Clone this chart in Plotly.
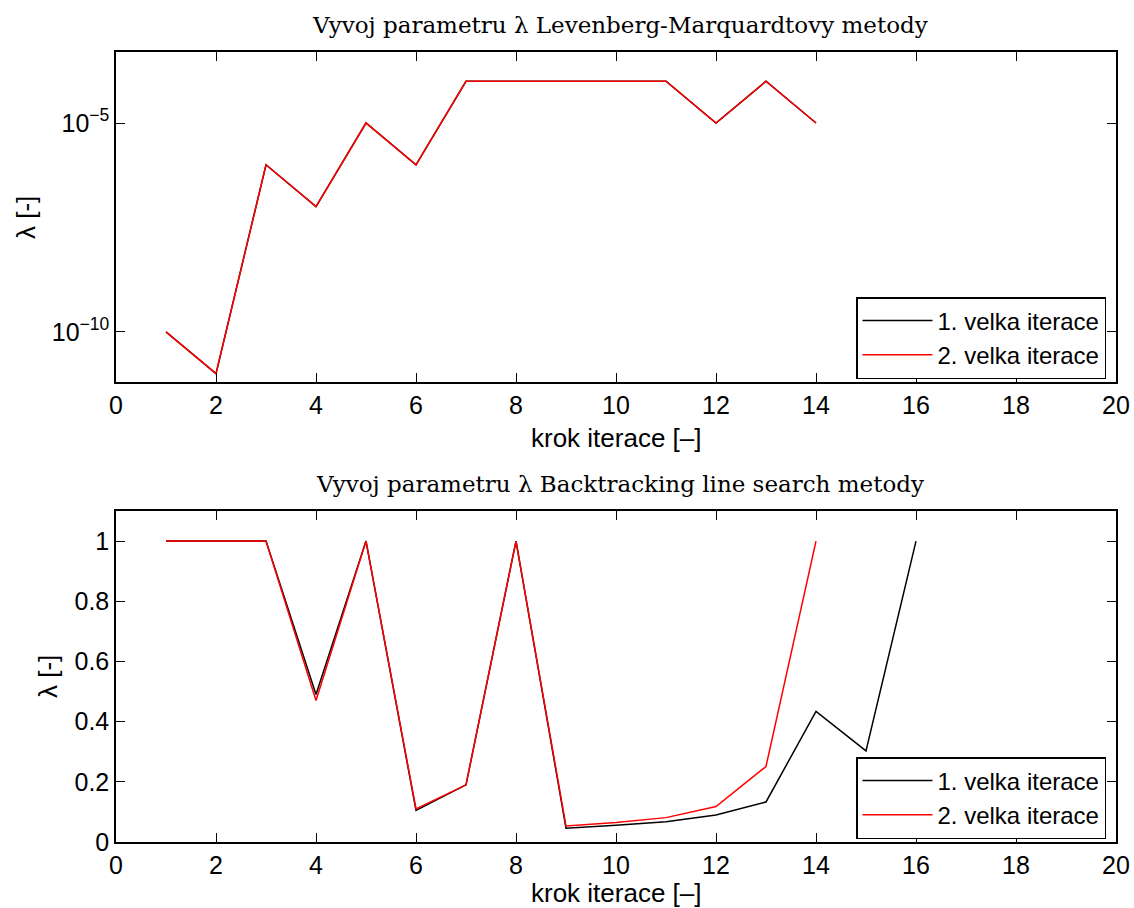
import plotly.graph_objects as go

# ---- data ----
lm_steps = list(range(1, 15))
lm_iter1 = [1e-10, 1e-11, 1e-6, 1e-7, 1e-5, 1e-6, 1e-4, 1e-4, 1e-4, 1e-4, 1e-4, 1e-5, 1e-4, 1e-5]
lm_iter2 = [1e-10, 1e-11, 1e-6, 1e-7, 1e-5, 1e-6, 1e-4, 1e-4, 1e-4, 1e-4, 1e-4, 1e-5, 1e-4, 1e-5]

bt_steps1 = list(range(1, 17))
bt_iter1 = [1, 1, 1, 0.49, 1, 0.105, 0.19, 1, 0.046, 0.056, 0.067, 0.09, 0.133, 0.434, 0.303, 1]
bt_steps2 = list(range(1, 15))
bt_iter2 = [1, 1, 1, 0.47, 1, 0.11, 0.19, 1, 0.053, 0.065, 0.081, 0.118, 0.251, 1]

names = ["1. velka iterace", "2. velka iterace"]
colors = ["#000000", "#ff0000"]

x_ticks = list(range(0, 21, 2))
top_yticks = [1e-10, 1e-5]
top_yticktext = ["10<sup>\u221210</sup>", "10<sup>\u22125</sup>"]
bot_yticks = [0, 0.2, 0.4, 0.6, 0.8, 1]

title_top = "Vyvoj parametru \u03bb Levenberg-Marquardtovy metody"
title_bot = "Vyvoj parametru \u03bb Backtracking line search metody"
xlabel = "krok iterace [\u2013]"
ylabel = "\u03bb [-]"

W, H = 1134, 908
def px(x):
    return x / W
def py(y):
    return 1 - y / H

fig = go.Figure()
fig.add_trace(go.Scatter(x=lm_steps, y=lm_iter1, mode="lines", name=names[0],
                         line=dict(color=colors[0], width=1.5), xaxis="x", yaxis="y", legend="legend"))
fig.add_trace(go.Scatter(x=lm_steps, y=lm_iter2, mode="lines", name=names[1],
                         line=dict(color=colors[1], width=1.5), xaxis="x", yaxis="y", legend="legend"))
fig.add_trace(go.Scatter(x=bt_steps1, y=bt_iter1, mode="lines", name=names[0],
                         line=dict(color=colors[0], width=1.5), xaxis="x2", yaxis="y2", legend="legend2"))
fig.add_trace(go.Scatter(x=bt_steps2, y=bt_iter2, mode="lines", name=names[1],
                         line=dict(color=colors[1], width=1.5), xaxis="x2", yaxis="y2", legend="legend2"))

tickfont = dict(family="Liberation Sans, Arial, sans-serif", size=25, color="black")
axis_common = dict(showline=True, linecolor="black", linewidth=1.5, mirror="ticks",
                   ticks="inside", ticklen=9, tickwidth=1.2, tickcolor="black",
                   showgrid=False, zeroline=False, tickfont=tickfont, automargin=False)

legfont = dict(family="Liberation Sans, Arial, sans-serif", size=24, color="black")
xd = [px(116), px(1116)]
fig.update_layout(
    width=W, height=H,
    margin=dict(l=0, r=0, t=0, b=0),
    paper_bgcolor="white", plot_bgcolor="white",
    xaxis=dict(domain=xd, range=[0, 20], tickvals=x_ticks, anchor="y", **axis_common),
    yaxis=dict(domain=[py(382), py(52)], type="log", range=[-11.2, -3.3],
               tickvals=top_yticks, ticktext=top_yticktext, anchor="x", **axis_common),
    xaxis2=dict(domain=xd, range=[0, 20], tickvals=x_ticks, anchor="y2", **axis_common),
    yaxis2=dict(domain=[py(842), py(511)], range=[0, 1.1], tickvals=bot_yticks,
                anchor="x2", **axis_common),
    legend=dict(x=px(1106), y=py(297), xanchor="right", yanchor="top",
                bordercolor="black", borderwidth=1.5, bgcolor="white",
                font=legfont, tracegroupgap=0, itemwidth=70),
    legend2=dict(x=px(1106), y=py(757), xanchor="right", yanchor="top",
                 bordercolor="black", borderwidth=1.5, bgcolor="white",
                 font=legfont, tracegroupgap=0, itemwidth=70),
    showlegend=True,
)

serif = dict(family="DejaVu Serif, Liberation Serif, serif", size=23, color="black")
sans = dict(family="Liberation Sans, Arial, sans-serif", size=26, color="black")
ann = [
    dict(text=title_top, x=px(620), y=py(25), font=serif),
    dict(text=title_bot, x=px(620), y=py(484), font=serif),
    dict(text=xlabel, x=px(616), y=py(438), font=sans),
    dict(text=xlabel, x=px(616), y=py(893), font=sans),
    dict(text=ylabel, x=px(26), y=py(218), font=sans, textangle=-90),
    dict(text=ylabel, x=px(48), y=py(677), font=sans, textangle=-90),
]
for a in ann:
    fig.add_annotation(xref="paper", yref="paper", showarrow=False,
                       xanchor="center", yanchor="middle", **a)

fig.write_html("out.html")
